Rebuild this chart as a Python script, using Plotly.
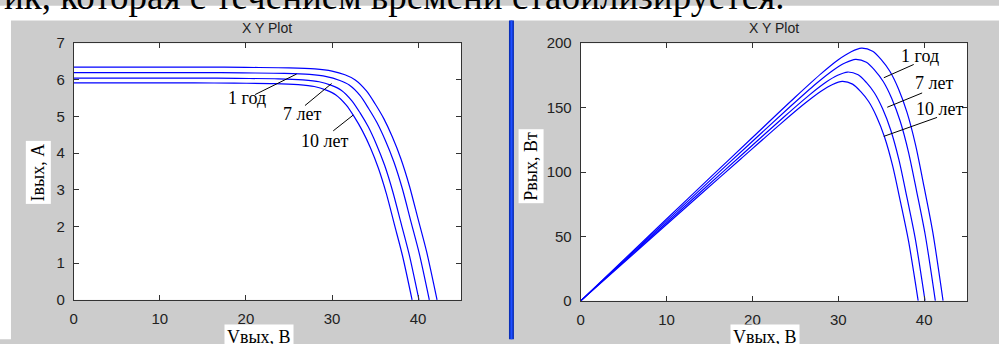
import plotly.graph_objects as go

W, H = 999, 344

# ---- data ----
# curve A (top, unlabelled)
v_a = [0, 5, 10, 15, 20, 25, 28, 30, 31.5, 32.7, 34, 35, 36, 37, 38, 39, 40, 41, 42.2]
i_a = [6.35, 6.35, 6.35, 6.35, 6.34, 6.33, 6.30, 6.24, 6.14, 6.00, 5.70, 5.35, 4.95, 4.45, 3.85, 3.10, 2.20, 1.30, 0]
p_a = [0, 31.75, 63.5, 95.25, 126.8, 158.25, 176.4, 187.2, 193.41, 196.2, 193.8, 187.25, 178.2, 164.65, 146.3, 120.9, 88.0, 53.3, 0]
# curve B ("1 год")
v_b = [0, 4.89, 9.79, 14.68, 19.57, 24.47, 27.40, 29.36, 30.83, 32.00, 33.27, 34.25, 35.23, 36.21, 37.19, 38.17, 39.15, 40.13, 41.3]
i_b = [6.2, 6.2, 6.2, 6.2, 6.19, 6.18, 6.15, 6.09, 5.99, 5.86, 5.57, 5.22, 4.83, 4.34, 3.76, 3.03, 2.15, 1.27, 0]
p_b = [0, 30.34, 60.68, 91.02, 121.17, 151.22, 168.56, 178.88, 184.81, 187.48, 185.19, 178.93, 170.28, 157.33, 139.80, 115.53, 84.09, 50.93, 0]
# curve C ("7 лет")
v_c = [0, 4.75, 9.50, 14.25, 19.00, 23.76, 26.61, 28.51, 29.93, 31.07, 32.31, 33.26, 34.21, 35.16, 36.11, 37.06, 38.01, 38.96, 40.1]
i_c = [6.05, 6.05, 6.05, 6.05, 6.04, 6.03, 6.00, 5.95, 5.85, 5.72, 5.43, 5.10, 4.72, 4.24, 3.67, 2.95, 2.10, 1.24, 0]
p_c = [0, 28.74, 57.49, 86.23, 114.80, 143.27, 159.70, 169.48, 175.10, 177.63, 175.46, 169.53, 161.33, 149.07, 132.45, 109.46, 79.67, 48.26, 0]
# curve D ("10 лет")
v_d = [0, 4.66, 9.31, 13.97, 18.63, 23.28, 26.08, 27.94, 29.33, 30.45, 31.66, 32.59, 33.53, 34.46, 35.39, 36.32, 37.25, 38.18, 39.3]
i_d = [5.92, 5.92, 5.92, 5.92, 5.91, 5.90, 5.87, 5.82, 5.72, 5.59, 5.31, 4.99, 4.61, 4.15, 3.59, 2.89, 2.05, 1.21, 0]
p_d = [0, 27.57, 55.13, 82.70, 110.09, 137.40, 153.15, 162.53, 167.92, 170.35, 168.26, 162.57, 154.72, 142.95, 127.02, 104.97, 76.40, 46.28, 0]

curve_labels = ["1 год", "7 лет", "10 лет"]
x_ticks = [0, 10, 20, 30, 40]
i_ticks = [0, 1, 2, 3, 4, 5, 6, 7]
p_ticks = [0, 50, 100, 150, 200]

top_text = "ик, которая с течением времени стабилизируется."
plot_title = "X Y Plot"
x_label = "Vвых, В"
i_label = "Iвых, А"
p_label = "Pвых, Вт"


def px(x):
    return x / W


def py(y):
    return 1 - y / H


BLUE = "#0000ff"
SERIF = "Liberation Serif, Times New Roman, serif"
SANS = "Liberation Sans, Arial, sans-serif"

fig = go.Figure()
line = dict(color=BLUE, width=1.2, shape="spline", smoothing=0.8)
for v, i in [(v_a, i_a), (v_b, i_b), (v_c, i_c), (v_d, i_d)]:
    fig.add_trace(go.Scatter(x=v, y=i, mode="lines", line=line, xaxis="x", yaxis="y",
                             showlegend=False, hoverinfo="skip"))
for v, p in [(v_a, p_a), (v_b, p_b), (v_c, p_c), (v_d, p_d)]:
    fig.add_trace(go.Scatter(x=v, y=p, mode="lines", line=line, xaxis="x2", yaxis="y2",
                             showlegend=False, hoverinfo="skip"))

axis_common = dict(showgrid=False, zeroline=False, showline=True, linecolor="#333333",
                   linewidth=1, mirror="ticks", ticks="inside", ticklen=5, tickcolor="#333333",
                   tickfont=dict(family=SANS, size=15, color="#222222"))

fig.update_layout(
    width=W, height=H, margin=dict(l=0, r=0, t=0, b=0),
    paper_bgcolor="#cccccc", plot_bgcolor="white", showlegend=False,
    xaxis=dict(domain=[px(70), px(459)], range=[0, 45], tickvals=x_ticks, anchor="y",
               ticklabelstandoff=5, **axis_common),
    yaxis=dict(domain=[py(306), py(36)], range=[0, 7], tickvals=i_ticks, anchor="x",
               ticklabelstandoff=5, **axis_common),
    xaxis2=dict(domain=[px(579), px(967)], range=[0, 45], tickvals=x_ticks, anchor="y2",
                ticklabelstandoff=5, **axis_common),
    yaxis2=dict(domain=[py(307), py(36)], range=[0, 200], tickvals=p_ticks, anchor="x2",
                ticklabelstandoff=5, **axis_common),
)

shapes = [
    dict(type="rect", xref="paper", yref="paper", x0=0, x1=1.01, y0=py(12), y1=1.01,
         fillcolor="white", line_width=0, layer="below"),
    dict(type="rect", xref="paper", yref="paper", x0=-0.01, x1=px(7), y0=-0.01, y1=1.01,
         fillcolor="white", line_width=0, layer="below"),
    dict(type="rect", xref="paper", yref="paper", x0=px(507), x1=px(512), y0=-0.01, y1=py(12),
         fillcolor="#0a2fb8", line_width=0, layer="below"),
    dict(type="rect", xref="paper", yref="paper", x0=px(508.5), x1=px(510.5), y0=-0.01, y1=py(12),
         fillcolor="#1f4fff", line_width=0, layer="below"),
]
# leader lines for curve labels
leaders_left = [((21.07, 5.60), (25.89, 6.16)), ((26.86, 5.30), (29.95, 5.90)), ((30.14, 4.61), (32.46, 5.04))]
leaders_right = [((38.78, 183.5), (35.30, 173.2)), ((39.76, 161.4), (35.70, 150.3)), ((41.50, 142.4), (35.30, 127.7))]
for (a, b) in leaders_left:
    shapes.append(dict(type="line", xref="x", yref="y", x0=a[0], y0=a[1], x1=b[0], y1=b[1],
                       line=dict(color="black", width=1)))
for (a, b) in leaders_right:
    shapes.append(dict(type="line", xref="x2", yref="y2", x0=a[0], y0=a[1], x1=b[0], y1=b[1],
                       line=dict(color="black", width=1)))
fig.update_layout(shapes=shapes)

ann = []
ann.append(dict(text=top_text, xref="paper", yref="paper", x=px(-2), y=py(10), xanchor="left",
                yanchor="bottom", showarrow=False, font=dict(family=SERIF, size=37, color="black")))
for cx in (264.5, 773):
    ann.append(dict(text=plot_title, xref="paper", yref="paper", x=px(cx), y=py(19.5), xanchor="center",
                    yanchor="middle", showarrow=False, font=dict(family=SANS, size=14, color="#222222")))
# axis labels
ann.append(dict(text=x_label, xref="paper", yref="paper", x=px(256.5), y=py(331), xanchor="center",
                yanchor="top", showarrow=False, bgcolor="white", borderpad=2,
                font=dict(family=SERIF, size=18, color="black")))
ann.append(dict(text=x_label, xref="paper", yref="paper", x=px(764), y=py(331), xanchor="center",
                yanchor="top", showarrow=False, bgcolor="white", borderpad=2,
                font=dict(family=SERIF, size=18, color="black")))
ann.append(dict(text=i_label, xref="paper", yref="paper", x=px(34.5), y=py(171.5), xanchor="center",
                yanchor="middle", textangle=-90, showarrow=False, bgcolor="white", borderpad=2,
                font=dict(family=SERIF, size=18, color="black")))
ann.append(dict(text=p_label, xref="paper", yref="paper", x=px(529.5), y=py(165.5), xanchor="center",
                yanchor="middle", textangle=-90, showarrow=False, bgcolor="white", borderpad=2,
                font=dict(family=SERIF, size=18, color="black")))
# curve labels
pos_left = [(20.09, 5.51), (26.47, 5.08), (29.18, 4.33)]
pos_right = [(39.56, 189.7), (41.10, 168.8), (41.76, 149.1)]
for lab, (x, y) in zip(curve_labels, pos_left):
    ann.append(dict(text=lab, xref="x", yref="y", x=x, y=y, showarrow=False,
                    font=dict(family=SERIF, size=18, color="black")))
for lab, (x, y) in zip(curve_labels, pos_right):
    ann.append(dict(text=lab, xref="x2", yref="y2", x=x, y=y, showarrow=False,
                    font=dict(family=SERIF, size=18, color="black")))
fig.update_layout(annotations=ann)

fig.write_html("out.html", config={"displayModeBar": False},
               post_script="document.body.style.margin='0';document.body.style.overflow='hidden';")
